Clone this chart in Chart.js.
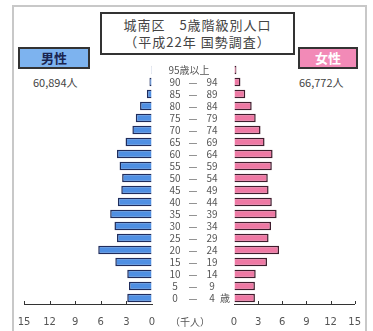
<!DOCTYPE html>
<html>
<head>
<meta charset="utf-8">
<script src="https://cdn.jsdelivr.net/npm/chart.js@4/dist/chart.umd.min.js"></script>
<style>
html, body { margin: 0; padding: 0; width: 373px; height: 331px; overflow: hidden; background: #fff; font-family: "Noto Sans CJK JP", sans-serif; }
#frame { position: absolute; left: 12px; top: 5px; width: 351px; height: 340px; border: 2px solid #c8c8c8; }
#title { position: absolute; left: 100px; top: 12px; width: 191px; height: 37px; padding-top: 2px; border: 2px solid #333; background: #fff;
  text-align: center; font-size: 13px; line-height: 17px; color: #444; letter-spacing: 1px; }
.box { position: absolute; top: 47px; height: 18px; border: 2px solid #333; text-align: center; font-size: 13px; font-weight: bold; line-height: 18px; }
#mbox { left: 18px; width: 68px; background: #7db3ef; color: #1a2550; }
#fbox { left: 298px; width: 56px; background: #f28ab7; color: #fff; }
.total { position: absolute; top: 74px; font-size: 11px; color: #444; }
canvas { position: absolute; }
</style>
</head>
<body>
<div id="frame"></div>
<div id="title">城南区　5歳階級別人口<br>（平成22年 国勢調査）</div>
<div class="box" id="mbox">男性</div>
<div class="box" id="fbox">女性</div>
<div class="total" style="left:33px">60,894人</div>
<div class="total" style="left:299px">66,772人</div>
<canvas id="male" width="160" height="272" style="left:0;top:58px"></canvas>
<canvas id="female" width="223" height="272" style="left:150px;top:58px"></canvas>
<script>
// age groups, oldest first (thousand people)
var ageFrom = [95, 90, 85, 80, 75, 70, 65, 60, 55, 50, 45, 40, 35, 30, 25, 20, 15, 10, 5, 0];
var ageTo   = [null, 94, 89, 84, 79, 74, 69, 64, 59, 54, 49, 44, 39, 34, 29, 24, 19, 14, 9, 4];
var male   = [0.1, 0.3, 0.6, 1.4, 1.9, 2.3, 3.1, 4.1, 3.8, 3.5, 3.6, 4.0, 4.9, 4.4, 4.1, 6.3, 4.3, 2.9, 2.7, 2.9];
var female = [0.3, 0.8, 1.4, 2.2, 2.7, 3.3, 3.8, 4.8, 4.7, 4.2, 4.3, 4.7, 5.3, 4.6, 4.3, 5.6, 4.1, 2.7, 2.6, 2.6];
var tickValues = [0, 3, 6, 9, 12, 15];

var labels = ageFrom.map(function (a, i) { return ageTo[i] === null ? a + '歳以上' : a + '-' + ageTo[i]; });

// small tick marks pointing up from the axis line
var upTicks = {
  id: 'upTicks',
  afterDraw: function (chart) {
    var ctx = chart.ctx, x = chart.scales.x, bottom = chart.chartArea.bottom;
    ctx.save();
    ctx.strokeStyle = '#333';
    ctx.lineWidth = 1;
    tickValues.forEach(function (v) {
      if (v === 0) return;
      var px = Math.round(x.getPixelForValue(v)) + 0.5;
      ctx.beginPath();
      ctx.moveTo(px, bottom);
      ctx.lineTo(px, bottom - 3);
      ctx.stroke();
    });
    ctx.restore();
  }
};

// age labels between the two halves
var ageText = {
  id: 'ageText',
  afterDraw: function (chart) {
    var ctx = chart.ctx, y = chart.scales.y;
    ctx.save();
    ctx.fillStyle = '#555';
    ctx.font = '10px "Noto Sans CJK JP", sans-serif';
    ctx.textBaseline = 'middle';
    ctx.textAlign = 'center';
    ageFrom.forEach(function (a, i) {
      var py = y.getPixelForValue(i);
      if (ageTo[i] === null) {
        ctx.fillText(a + '歳以上', 39, py);
        return;
      }
      ctx.fillText(String(a), 25, py);
      ctx.fillText('—', 43, py);
      ctx.fillText(String(ageTo[i]), 62, py);
    });
    ctx.fillText('歳', 75, y.getPixelForValue(ageFrom.length - 1));
    ctx.fillText('（千人）', 40, 264);
    ctx.restore();
  }
};

function xScale(rev) {
  return {
    min: 0, max: 15, reverse: rev,
    afterBuildTicks: function (s) { s.ticks = tickValues.map(function (v) { return { value: v }; }); },
    afterFit: function (s) { s.height = 26; },
    grid: { drawOnChartArea: false, drawTicks: false },
    border: { display: true, color: '#333', width: 1 },
    ticks: { padding: 12, color: '#555', font: { size: 10, family: 'DejaVu Sans' }, maxRotation: 0 }
  };
}

function makeChart(id, data, fill, edge, rev, pad, plugins) {
  return new Chart(document.getElementById(id), {
    type: 'bar',
    data: {
      labels: labels,
      datasets: [{ data: data, backgroundColor: fill, borderColor: edge, borderWidth: 1.5,
        categoryPercentage: 1, barPercentage: 0.7 }]
    },
    options: {
      indexAxis: 'y',
      responsive: false,
      animation: false,
      layout: { padding: pad },
      plugins: { legend: { display: false }, tooltip: { enabled: false } },
      scales: { x: xScale(rev), y: { display: false } }
    },
    plugins: plugins
  });
}

makeChart('male', male, '#4f8fe3', '#1f2c5c', true, { left: 24, right: 8, top: 6, bottom: 0 }, [upTicks]);
makeChart('female', female, '#ee79a4', '#3e1c2c', false, { left: 84, right: 13, top: 6, bottom: 0 }, [upTicks, ageText]);
</script>
</body>
</html>
